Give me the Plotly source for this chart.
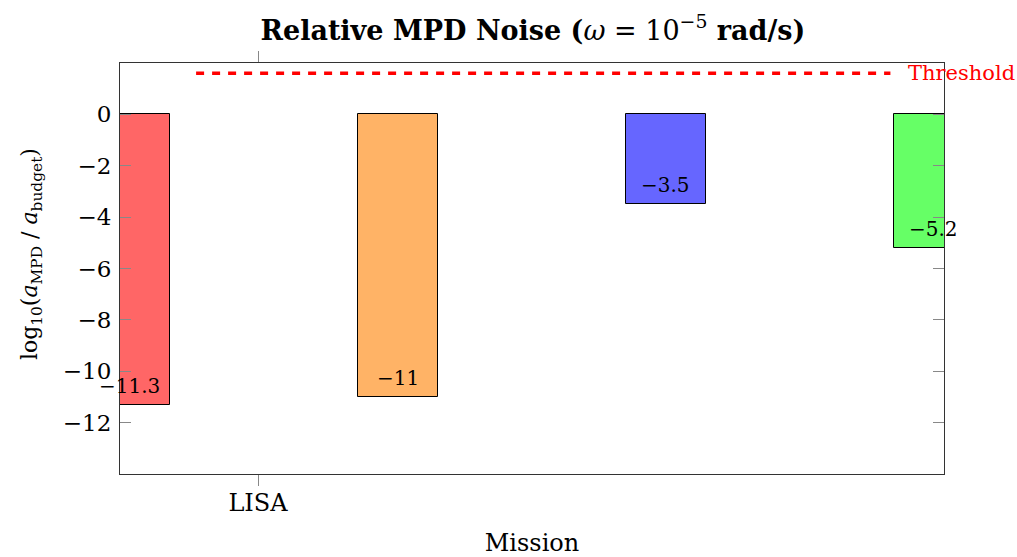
import plotly.graph_objects as go

# ---- data ----
mission_index = [0, 1, 2, 3]
values = [-11.3, -11.0, -3.5, -5.2]
value_labels = ["\u221211.3", "\u221211", "\u22123.5", "\u22125.2"]
bar_colors = ["#FF6666", "#FFB366", "#6666FF", "#66FF66"]
tick_positions = [0]
tick_labels = ["LISA"]
threshold_value = 1.6
y_ticks = [0, -2, -4, -6, -8, -10, -12]

# ---- style ----
FONT = "DejaVu Serif"
bar_shift = -0.478      # pgfplots-style bar shift (category units)
bar_width = 0.298
thr_x0, thr_x1 = -0.231, 2.36

centers = [i + bar_shift for i in mission_index]

fig = go.Figure()
fig.add_trace(go.Bar(
    x=mission_index, y=values,
    offset=bar_shift - bar_width / 2, width=bar_width,
    marker=dict(color=bar_colors, line=dict(color="black", width=1)),
    cliponaxis=True, showlegend=False, hoverinfo="skip",
))

# threshold line
fig.add_trace(go.Scatter(
    x=[thr_x0, thr_x1], y=[threshold_value, threshold_value],
    mode="lines", line=dict(color="red", width=3.3, dash="8px,8px"),
    showlegend=False, hoverinfo="skip", cliponaxis=False,
))

annotations = []
for c, v, t in zip(centers, values, value_labels):
    annotations.append(dict(x=c, y=v, xref="x", yref="y", text=t, showarrow=False,
                            yshift=19, font=dict(family=FONT, size=20, color="black")))
annotations.append(dict(x=thr_x1, y=threshold_value, xref="x", yref="y", text="Threshold",
                        showarrow=False, xanchor="left", xshift=16,
                        font=dict(family=FONT, size=21, color="red")))
# y-axis title
annotations.append(dict(x=-0.108, y=0.535, xref="paper", yref="paper", textangle=-90,
                        text="log<sub>10</sub>(<i>a</i><sub>MPD</sub> / <i>a</i><sub>budget</sub>)",
                        showarrow=False, xanchor="center", yanchor="middle",
                        font=dict(family=FONT, size=22, color="black")))

fig.update_layout(
    width=1017, height=557,
    margin=dict(l=120, r=73, t=63, b=83),
    plot_bgcolor="white", paper_bgcolor="white",
    font=dict(family=FONT, size=20, color="black"),
    title=dict(
        text="<b>Relative MPD Noise (</b><i>\u03c9</i> = 10<sup>\u22125</sup><b> rad/s)</b>",
        x=0.524, xanchor="center", y=0.946, yanchor="middle", yref="container",
        font=dict(family=FONT, size=27, color="black"),
    ),
    annotations=annotations,
    bargap=0,
)
fig.update_xaxes(
    range=[-0.515, 2.56], tickvals=tick_positions, ticktext=tick_labels,
    ticks="outside", ticklen=11, tickcolor="#888", mirror="ticks",
    showline=True, linecolor="#333", linewidth=1, showgrid=False, zeroline=False,
    tickfont=dict(family=FONT, size=24), automargin=False, ticklabelstandoff=-4,
    title=dict(text="Mission", font=dict(family=FONT, size=24), standoff=19),
)
fig.update_yaxes(
    range=[-14, 2], tickvals=y_ticks,
    ticks="inside", ticklen=11, tickcolor="#888", mirror="ticks",
    showline=True, linecolor="#333", linewidth=1, showgrid=False, zeroline=False,
    tickfont=dict(family=FONT, size=23), ticklabelstandoff=3, automargin=False,
)

fig.write_html("out.html")
